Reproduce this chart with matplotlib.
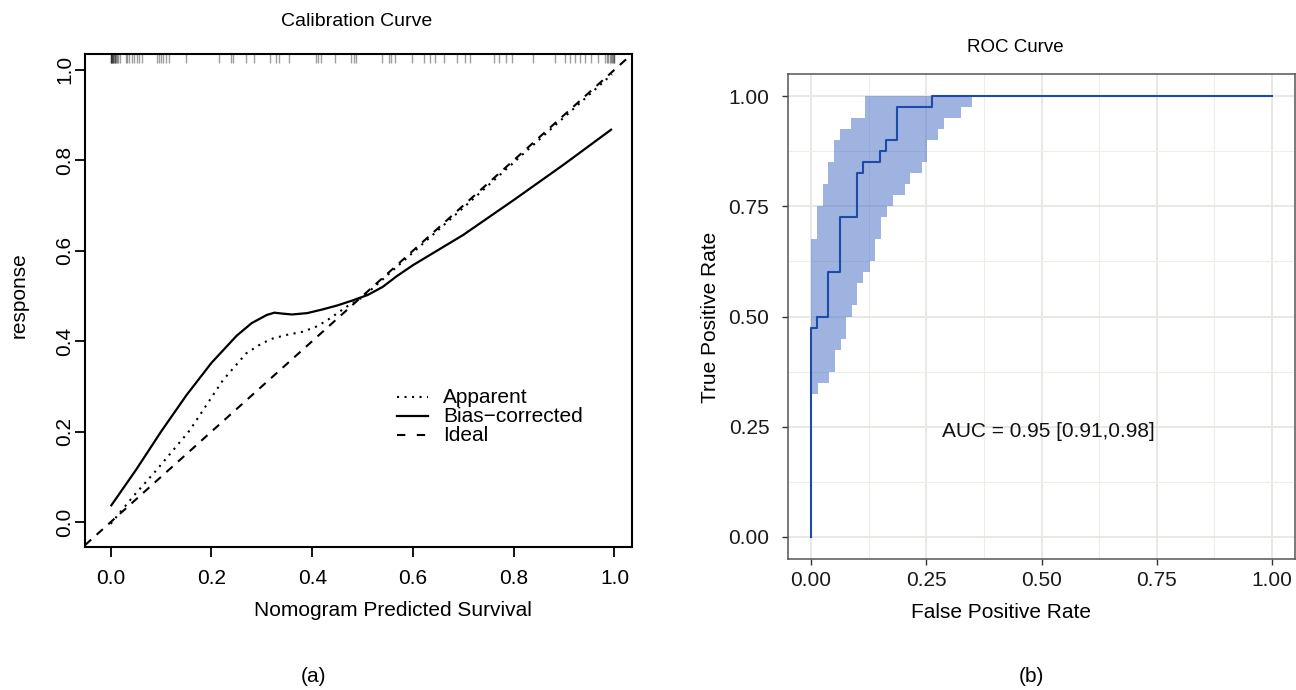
import numpy as np
import matplotlib
matplotlib.use("Agg")
import matplotlib.pyplot as plt

plt.rcParams['font.family'] = ['Liberation Sans', 'DejaVu Sans']

# ---------------- Calibration curve data ----------------
apparent_x = [0.0, 0.044, 0.091, 0.157, 0.223, 0.269, 0.300, 0.322, 0.350, 0.382, 0.410,
              0.435, 0.468, 0.500, 0.600, 0.700, 0.800, 0.900, 0.995]
apparent_y = [-0.004, 0.056, 0.115, 0.203, 0.314, 0.373, 0.395, 0.406, 0.414, 0.421, 0.433,
              0.450, 0.476, 0.497, 0.596, 0.695, 0.795, 0.895, 0.990]

bias_x = [0.0, 0.05, 0.10, 0.15, 0.20, 0.25, 0.28, 0.31, 0.325, 0.34, 0.36, 0.39, 0.42,
          0.45, 0.48, 0.51, 0.54, 0.567, 0.60, 0.70, 0.80, 0.90, 0.995]
bias_y = [0.035, 0.115, 0.200, 0.280, 0.352, 0.412, 0.440, 0.458, 0.463, 0.461, 0.459,
          0.462, 0.470, 0.479, 0.490, 0.502, 0.520, 0.543, 0.568, 0.635, 0.712, 0.791, 0.869]

rug_pred = [0.000, 0.000, 0.001, 0.002, 0.003, 0.004, 0.005, 0.006, 0.008, 0.009, 0.010,
            0.012, 0.014, 0.018, 0.030, 0.033, 0.037, 0.042, 0.047, 0.052, 0.057, 0.063,
            0.091, 0.095, 0.100, 0.104, 0.109, 0.115, 0.150, 0.215, 0.238, 0.243, 0.268,
            0.284, 0.317, 0.329, 0.334, 0.354, 0.407, 0.411, 0.417, 0.446, 0.477, 0.483,
            0.487, 0.539, 0.552, 0.557, 0.565, 0.598, 0.621, 0.634, 0.644, 0.661, 0.687,
            0.704, 0.714, 0.760, 0.770, 0.784, 0.796, 0.839, 0.882, 0.902, 0.911, 0.921,
            0.931, 0.941, 0.954, 0.968, 0.981, 0.985, 0.988, 0.991, 0.993, 0.995, 0.997,
            0.999, 1.000]

calib_ticks = [0.0, 0.2, 0.4, 0.6, 0.8, 1.0]
calib_ticklabels = ["0.0", "0.2", "0.4", "0.6", "0.8", "1.0"]
legend_labels = ["Apparent", "Bias\u2212corrected", "Ideal"]

# ---------------- ROC data ----------------
roc_fpr = [0.0, 0.0, 0.0125, 0.0375, 0.0625, 0.1000, 0.1125, 0.1500, 0.1625, 0.1875, 0.2625, 1.0]
roc_tpr = [0.0, 0.475, 0.500, 0.600, 0.725, 0.825, 0.850, 0.875, 0.900, 0.975, 1.000, 1.0]

ci_hi_x = [0.0, 0.0125, 0.025, 0.0375, 0.05, 0.0625, 0.0875, 0.1175]
ci_hi_y = [0.675, 0.750, 0.800, 0.850, 0.900, 0.925, 0.950, 1.000]
ci_lo_x = [0.0, 0.015, 0.039, 0.051, 0.064, 0.076, 0.088, 0.1006, 0.113, 0.127, 0.139,
           0.1525, 0.164, 0.177, 0.204, 0.214, 0.241, 0.251, 0.275, 0.288, 0.326, 0.350]
ci_lo_y = [0.325, 0.350, 0.375, 0.425, 0.450, 0.500, 0.525, 0.575, 0.600, 0.625, 0.675,
           0.725, 0.750, 0.775, 0.800, 0.825, 0.850, 0.900, 0.925, 0.950, 0.975, 1.000]

roc_ticks = [0.0, 0.25, 0.5, 0.75, 1.0]
roc_ticklabels = ["0.00", "0.25", "0.50", "0.75", "1.00"]
auc_text = "AUC = 0.95 [0.91,0.98]"

W, H = 1296, 690
fig = plt.figure(figsize=(W / 100, H / 100), dpi=100)


def px_axes(l, t, r, b):
    return [l / W, 1 - b / H, (r - l) / W, (b - t) / H]


# ================= Left: calibration =================
ax1 = fig.add_axes(px_axes(85, 53.5, 631.6, 547.4))
ax1.set_xlim(-0.051, 1.034)
ax1.set_ylim(-0.056, 1.036)
for s in ax1.spines.values():
    s.set_linewidth(1.5)
    s.set_color('black')

ax1.axline((0, 0), (1, 1), color='black', lw=1.5, dashes=(4, 3.5))
ax1.plot(apparent_x, apparent_y, color='black', lw=1.5, dashes=(1, 2.6))
ax1.plot(bias_x, bias_y, color='black', lw=1.6, solid_capstyle='butt')

ylo, yhi = ax1.get_ylim()
ax1.vlines(rug_pred, yhi - 0.02, yhi, color='black', alpha=0.38, lw=1.0)

ax1.set_xticks(calib_ticks)
ax1.set_xticklabels(calib_ticklabels)
ax1.set_yticks(calib_ticks)
ax1.set_yticklabels(calib_ticklabels, rotation=90, va='center')
ax1.tick_params(axis='both', direction='out', length=7.5, width=1.3, labelsize=15, color='black')
ax1.tick_params(axis='x', pad=8)
ax1.tick_params(axis='y', pad=0)

# legend (base-R style, no box)
tr = ax1.transAxes
rows = [0.3045, 0.266, 0.2275]
ax1.plot([0.571, 0.6275], [rows[0]] * 2, transform=tr, color='black', lw=1.5, dashes=(1, 2.6))
ax1.plot([0.571, 0.6275], [rows[1]] * 2, transform=tr, color='black', lw=1.6)
ax1.plot([0.571, 0.6275], [rows[2]] * 2, transform=tr, color='black', lw=1.5, dashes=(4, 5.5))
for r, lab in zip(rows, legend_labels):
    ax1.text(0.655, r, lab, transform=tr, fontsize=15, va='center', ha='left')

fig.text(357 / W, 1 - 22 / H, "Calibration Curve", ha='center', va='center', fontsize=14)
fig.text(393 / W, 1 - 610 / H, "Nomogram Predicted Survival", ha='center', va='center', fontsize=15)
fig.text(19 / W, 1 - 295 / H, "response", ha='center', va='center', fontsize=15, rotation=90)

# ================= Right: ROC =================
ax2 = fig.add_axes(px_axes(788, 74, 1295, 559))
ax2.set_xlim(-0.05, 1.05)
ax2.set_ylim(-0.05, 1.05)
ax2.set_facecolor('white')
ax2.set_xticks(roc_ticks)
ax2.set_xticklabels(roc_ticklabels)
ax2.set_yticks(roc_ticks)
ax2.set_yticklabels(roc_ticklabels)
ax2.set_xticks([0.125, 0.375, 0.625, 0.875], minor=True)
ax2.set_yticks([0.125, 0.375, 0.625, 0.875], minor=True)
ax2.grid(True, which='major', color='#E6E6E2', lw=1.3)
ax2.grid(True, which='minor', color='#EDEDEA', lw=0.8)
ax2.set_axisbelow(True)
ax2.tick_params(which='minor', length=0)
ax2.tick_params(which='major', direction='out', length=4.5, width=1.0, color='#333333',
                labelsize=15, labelcolor='#1A1A1A')
ax2.tick_params(axis='x', pad=4)
ax2.tick_params(axis='y', pad=9)
for s in ax2.spines.values():
    s.set_linewidth(1.1)
    s.set_color('#555555')

# confidence band
grid_x = np.unique(np.concatenate([ci_hi_x, ci_lo_x, [1.0]]))
hi_idx = np.searchsorted(ci_hi_x, grid_x, side='right') - 1
lo_idx = np.searchsorted(ci_lo_x, grid_x, side='right') - 1
band_hi = np.array(ci_hi_y)[hi_idx]
band_lo = np.array(ci_lo_y)[lo_idx]
ax2.fill_between(grid_x, band_lo, band_hi, step='post', color='#4169C5', alpha=0.5, lw=0)

ax2.step(roc_fpr, roc_tpr, where='post', color='#1E4BA8', lw=1.5)
ax2.text(0.515, 0.24, auc_text, ha='center', va='center', fontsize=15, color='#111111')

fig.text(1015 / W, 1 - 48 / H, "ROC Curve", ha='center', va='center', fontsize=13.5)
fig.text(1001 / W, 1 - 612 / H, "False Positive Rate", ha='center', va='center', fontsize=15)
fig.text(710 / W, 1 - 317 / H, "True Positive Rate", ha='center', va='center', fontsize=15,
         rotation=90)

fig.text(314 / W, 1 - 677 / H, "(a)", ha='center', va='center', fontsize=15)
fig.text(1031 / W, 1 - 677 / H, "(b)", ha='center', va='center', fontsize=15)

fig.savefig("out.png", dpi=100)
